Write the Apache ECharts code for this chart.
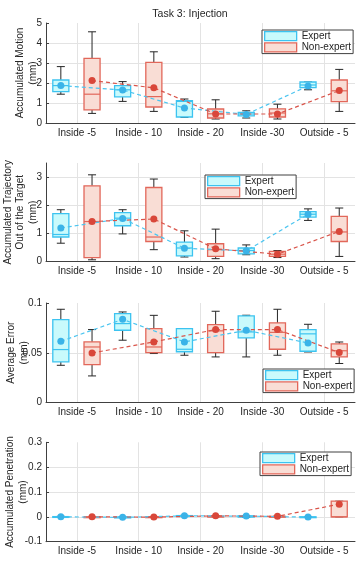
<!DOCTYPE html>
<html>
<head>
<meta charset="utf-8">
<script src="https://cdn.jsdelivr.net/npm/echarts@6.0.0/dist/echarts.min.js"></script>
<style>
  html, body { margin: 0; padding: 0; background: #fff; }
  #main { width: 357px; height: 561px; }
</style>
</head>
<body>
<div id="main"></div>
<script>
// categories and values, box = [min, q1, median, q3, max]
var categories = ['Inside -5', 'Inside - 10', 'Inside - 20', 'Inside -30', 'Outside - 5'];

var motionExpertBox = [[1.44, 1.57, 1.87, 2.15, 2.82], [1.08, 1.31, 1.66, 1.87, 2.07], [0.28, 0.3, 1.08, 1.12, 1.2], [0.25, 0.36, 0.45, 0.53, 0.61], [1.66, 1.77, 1.9, 2.05, 2.05]];
var motionExpertMean = [1.87, 1.65, 0.75, 0.43, 1.85];
var motionNonExpertBox = [[0.48, 0.66, 1.44, 3.23, 4.56], [0.58, 0.8, 1.32, 3.03, 3.56], [0.2, 0.25, 0.46, 0.7, 1.16], [0.2, 0.3, 0.5, 0.71, 0.94], [0.58, 1.07, 1.61, 2.15, 2.68]];
var motionNonExpertMean = [2.12, 1.76, 0.45, 0.45, 1.62];
var motionOutlier = [[4, 2.47]];

var trajExpertBox = [[0.65, 0.87, 0.96, 1.7, 1.84], [0.98, 1.27, 1.54, 1.74, 1.84], [0.16, 0.2, 0.48, 0.69, 1.09], [0.24, 0.27, 0.39, 0.48, 0.59], [1.46, 1.58, 1.68, 1.77, 1.87]];
var trajExpertMean = [1.19, 1.53, 0.47, 0.38, 1.68];
var trajNonExpertBox = [[0.06, 0.14, 1.42, 2.69, 3.08], [0.42, 0.71, 0.87, 2.63, 2.93], [0.1, 0.18, 0.42, 0.63, 1.15], [0.14, 0.18, 0.26, 0.36, 0.39], [0.18, 0.71, 1.05, 1.6, 1.9]];
var trajNonExpertMean = [1.42, 1.51, 0.45, 0.26, 1.07];

var errorExpertBox = [[0.0374, 0.0408, 0.0532, 0.0833, 0.0937], [0.0626, 0.0726, 0.0793, 0.0893, 0.091], [0.0475, 0.051, 0.0535, 0.0743, 0.0743], [0.0458, 0.0649, 0.0709, 0.087, 0.0877], [0.0508, 0.0515, 0.069, 0.0733, 0.0786]];
var errorExpertMean = [0.0615, 0.0836, 0.0609, 0.0726, 0.0598];
var errorNonExpertBox = [[0.0267, 0.0381, 0.0558, 0.0609, 0.0733], [0.0492, 0.0502, 0.0558, 0.0743, 0.0876], [0.0458, 0.0502, 0.072, 0.0783, 0.0917], [0.0475, 0.0535, 0.0705, 0.08, 0.0937], [0.0392, 0.0458, 0.052, 0.0589, 0.0608]];
var errorNonExpertMean = [0.0498, 0.0609, 0.0733, 0.0733, 0.0502];

var penExpertBox = [[-0.001, -0.001, 0, 0.001, 0.002], [-0.003, -0.003, -0.002, -0.001, 0], [0.001, 0.002, 0.003, 0.005, 0.006], [-0.002, -0.001, 0.002, 0.004, 0.005], [-0.002, -0.002, -0.001, 0, 0]];
var penExpertMean = [0, -0.002, 0.004, 0.003, -0.001];
var penNonExpertBox = [[0, 0, 0, 0, 0], [0, 0, 0, 0, 0], [0, 0, 0, 0.003, 0.005], [0, 0, 0, 0.002, 0.003], [0, 0, 0, 0.063, 0.063]];
var penNonExpertMean = [0, -0.001, 0.004, 0.002, 0.051];

var FONT = 'Liberation Sans, Arial, sans-serif';
var TXT = '#262626';
var EXP_STROKE = '#3cc3f0', EXP_FILL = '#c9fafc', EXP_DOT = '#3ab3e8';
var NON_STROKE = '#e2675a', NON_FILL = '#f9ddd5', NON_DOT = '#d9473a';
var EXP_OFF = -0.26, NON_OFF = 0.245;

function boxRenderer(offset, stroke, fill) {
  return function (params, api) {
    var idx = api.value(0);
    var bw = api.size([1, 0])[0];
    var cx = api.coord([idx, 0])[0] + offset * bw;
    var half = bw * 0.13, cap = bw * 0.065;
    var y = [1, 2, 3, 4, 5].map(function (d) { return api.coord([idx, api.value(d)])[1]; });
    var whisk = { stroke: '#262626', lineWidth: 1 };
    return {
      type: 'group',
      children: [
        { type: 'line', shape: { x1: cx, y1: y[0], x2: cx, y2: y[1] }, style: whisk },
        { type: 'line', shape: { x1: cx, y1: y[3], x2: cx, y2: y[4] }, style: whisk },
        { type: 'line', shape: { x1: cx - cap, y1: y[0], x2: cx + cap, y2: y[0] }, style: whisk },
        { type: 'line', shape: { x1: cx - cap, y1: y[4], x2: cx + cap, y2: y[4] }, style: whisk },
        { type: 'rect', shape: { x: cx - half, y: y[3], width: half * 2, height: Math.max(y[1] - y[3], 0.8) },
          style: { fill: fill, stroke: stroke, lineWidth: 1.3 } },
        { type: 'line', shape: { x1: cx - half, y1: y[2], x2: cx + half, y2: y[2] }, style: { stroke: stroke, lineWidth: 1.2 } }
      ]
    };
  };
}

function toBoxData(list) {
  return list.map(function (b, i) { return [i].concat(b); });
}
function toMeanData(list, offset) {
  return list.map(function (m, i) { return [i + offset, m]; });
}

var panels = [
  { top: 23, height: 100, min: 0, max: 5, interval: 1, name: 'Accumulated Motion\n(mm)', gap: 7,
    eb: motionExpertBox, em: motionExpertMean, nb: motionNonExpertBox, nm: motionNonExpertMean, legend: [262, 30] },
  { top: 163, height: 98.5, min: 0, max: 3.5, interval: 1, name: 'Accumulated Trajectory\nOut of the Target\n(mm)', gap: 7,
    eb: trajExpertBox, em: trajExpertMean, nb: trajNonExpertBox, nm: trajNonExpertMean, legend: [205, 175] },
  { top: 303, height: 99.5, min: 0, max: 0.1, interval: 0.05, name: 'Average Error\n(mm)', gap: 16,
    eb: errorExpertBox, em: errorExpertMean, nb: errorNonExpertBox, nm: errorNonExpertMean, legend: [263, 369] },
  { top: 442.3, height: 99.4, min: -0.1, max: 0.3, interval: 0.1, name: 'Accumulated Penetration\n(mm)', gap: 17,
    eb: penExpertBox, em: penExpertMean, nb: penNonExpertBox, nm: penNonExpertMean, legend: [260, 452] }
];

var grid = [], catAxes = [], valAxes = [], yAxis = [], series = [], legend = [];

panels.forEach(function (p, k) {
  grid.push({ left: 46, top: p.top, width: 309, height: p.height, outerBoundsMode: 'none', containLabel: false });
  catAxes.push({
    type: 'category', gridIndex: k, data: categories,
    axisLine: { onZero: false, lineStyle: { color: '#404040' } },
    axisTick: { alignWithLabel: true, inside: true, length: 3, lineStyle: { color: '#404040' } },
    axisLabel: { color: TXT, fontSize: 10, fontFamily: FONT, margin: 5, interval: 0 },
    splitLine: { show: true, alignWithLabel: true, lineStyle: { color: '#e3e3e3' } }
  });
  valAxes.push({ type: 'value', gridIndex: k, min: -0.5, max: 4.5, show: false });
  yAxis.push({
    type: 'value', gridIndex: k, min: p.min, max: p.max, interval: p.interval,
    name: p.name, nameLocation: 'middle', nameGap: p.gap, nameRotate: 90, nameMoveOverlap: false,
    nameTextStyle: { color: TXT, fontSize: 10, fontFamily: FONT, lineHeight: 12.5 },
    axisLine: { show: true, onZero: false, lineStyle: { color: '#404040' } },
    axisTick: { show: true, inside: true, length: 3, lineStyle: { color: '#404040' } },
    axisLabel: { color: TXT, fontSize: 10, fontFamily: FONT, margin: 4, showMaxLabel: k !== 1 },
    splitLine: { show: true, showMaxLine: false, lineStyle: { color: '#e3e3e3' } }
  });
  series.push({
    name: 'Expert', type: 'custom', xAxisIndex: k, yAxisIndex: k,
    renderItem: boxRenderer(EXP_OFF, EXP_STROKE, EXP_FILL),
    itemStyle: { color: EXP_FILL, borderColor: EXP_STROKE },
    encode: { x: 0, y: [1, 2, 3, 4, 5] }, data: toBoxData(p.eb), z: 2
  });
  series.push({
    name: 'Non-expert', type: 'custom', xAxisIndex: k, yAxisIndex: k,
    renderItem: boxRenderer(NON_OFF, NON_STROKE, NON_FILL),
    itemStyle: { color: NON_FILL, borderColor: NON_STROKE },
    encode: { x: 0, y: [1, 2, 3, 4, 5] }, data: toBoxData(p.nb), z: 2
  });
  series.push({
    name: 'Expert mean', type: 'line', xAxisIndex: panels.length + k, yAxisIndex: k,
    data: toMeanData(p.em, EXP_OFF), symbol: 'circle', symbolSize: 7, z: 4,
    itemStyle: { color: EXP_DOT },
    lineStyle: { color: '#4cc5f0', width: 1.2, type: [4, 3] }
  });
  series.push({
    name: 'Non-expert mean', type: 'line', xAxisIndex: panels.length + k, yAxisIndex: k,
    data: toMeanData(p.nm, NON_OFF), symbol: 'circle', symbolSize: 7, z: 4,
    itemStyle: { color: NON_DOT },
    lineStyle: { color: '#d9544a', width: 1.2, type: [4, 3] }
  });
  legend.push({
    left: p.legend[0], top: p.legend[1], orient: 'vertical', selectedMode: false,
    itemWidth: 32, itemHeight: 9, itemGap: 1, padding: [1, 2],
    borderColor: '#404040', borderWidth: 1, backgroundColor: '#fff',
    textStyle: { color: TXT, fontSize: 10, fontFamily: FONT },
    data: [
      { name: 'Expert', icon: 'rect', itemStyle: { color: EXP_FILL, borderColor: EXP_STROKE, borderWidth: 1.3 } },
      { name: 'Non-expert', icon: 'rect', itemStyle: { color: NON_FILL, borderColor: NON_STROKE, borderWidth: 1.3 } }
    ]
  });
});

series.push({
  name: 'Outlier', type: 'scatter', xAxisIndex: panels.length, yAxisIndex: 0,
  data: motionOutlier.map(function (d) { return [d[0] + EXP_OFF, d[1]]; }),
  symbol: 'emptyCircle', symbolSize: 8, z: 4,
  itemStyle: { color: '#fff', borderColor: EXP_STROKE, borderWidth: 1.3 }
});

var myChart = echarts.init(document.getElementById('main'));
myChart.setOption({
  backgroundColor: '#fff',
  animation: false,
  textStyle: { fontFamily: FONT },
  title: {
    text: 'Task 3: Injection', left: 190, top: 9, textAlign: 'center', padding: 0,
    textStyle: { color: TXT, fontSize: 10.5, fontWeight: 'normal', fontFamily: FONT }
  },
  legend: legend,
  grid: grid,
  xAxis: catAxes.concat(valAxes),
  yAxis: yAxis,
  series: series
});
</script>
</body>
</html>
